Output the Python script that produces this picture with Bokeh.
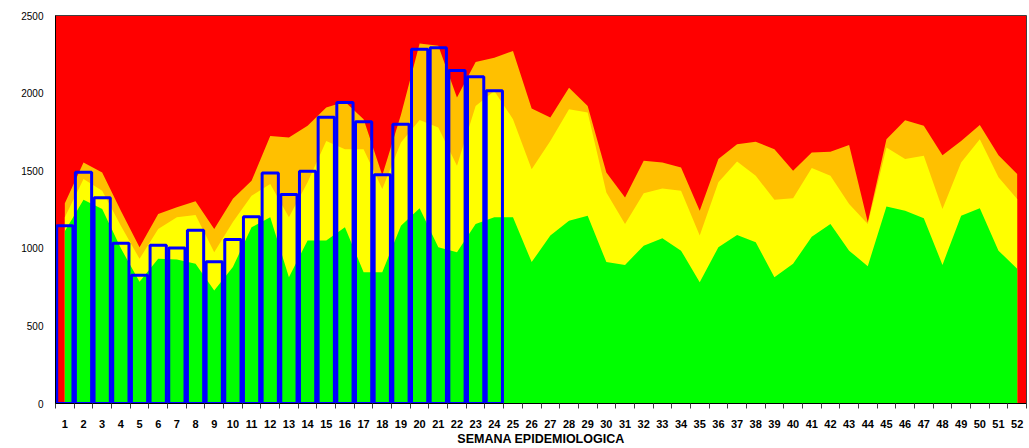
from bokeh.plotting import figure
from bokeh.models import FixedTicker, Range1d
from bokeh.embed import file_html
from bokeh.resources import INLINE

# ---- data ----
weeks = list(range(1, 53))
bar_weeks = list(range(1, 25))
casos = [1145, 1490, 1325, 1032, 826, 1020, 1002, 1116, 913, 1056,
         1203, 1485, 1346, 1496, 1845, 1940, 1816, 1474, 1800, 2283,
         2292, 2146, 2106, 2015]
# upper limits of the endemic-channel zones
p75 = [1290, 1553, 1489, 1242, 1007, 1221, 1264, 1303, 1125, 1320,
       1435, 1724, 1714, 1789, 1907, 1945, 1832, 1470, 1860, 2320,
       2305, 1971, 2200, 2228, 2271, 1900, 1842, 2035, 1917, 1489,
       1328, 1564, 1553, 1521, 1242, 1575, 1671, 1686, 1639, 1500,
       1618, 1622, 1665, 1168, 1703, 1825, 1789, 1600, 1692, 1795,
       1600, 1478]
p50 = [1200, 1446, 1371, 1146, 932, 1125, 1200, 1215, 975, 1170,
       1339, 1414, 1200, 1425, 1692, 1639, 1639, 1382, 1682, 1827,
       1778, 1532, 1917, 2014, 1832, 1510, 1692, 1896, 1875, 1360,
       1157, 1354, 1386, 1371, 1082, 1425, 1560, 1467, 1313, 1322,
       1517, 1467, 1285, 1157, 1650, 1575, 1596, 1253, 1553, 1703,
       1457, 1318]
p25 = [1110, 1313, 1253, 1000, 784, 932, 928, 900, 728, 880,
       1135, 1200, 814, 1050, 1050, 1135, 846, 846, 1146, 1258,
       1007, 975, 1157, 1200, 1200, 911, 1082, 1178, 1210, 911,
       893, 1017, 1065, 985, 782, 1007, 1086, 1039, 814, 900,
       1075, 1157, 985, 885, 1270, 1242, 1193, 893, 1210, 1258,
       985, 868]
y_ticks = [0, 500, 1000, 1500, 2000, 2500]
x_title = "SEMANA EPIDEMIOLOGICA"

# ---- figure ----
p = figure(width=1029, height=448, output_backend="svg", toolbar_location=None,
           x_range=Range1d(0.5, 52.5), y_range=Range1d(0, 2500),
           min_border_left=55, min_border_right=3, min_border_top=15,
           min_border_bottom=43)
p.background_fill_color = "#FF0000"
p.border_fill_color = "white"
p.outline_line_color = "#404040"
p.outline_line_width = 1
p.grid.visible = False

p.varea(x=weeks, y1=0, y2=p75, fill_color="#FFC000")
p.varea(x=weeks, y1=0, y2=p50, fill_color="#FFFF00")
p.varea(x=weeks, y1=0, y2=p25, fill_color="#00FF00")
p.vbar(x=bar_weeks, top=casos, bottom=0, width=0.87, fill_color=None,
       line_color="#0000FF", line_width=3)

xa = p.xaxis[0]
xa.ticker = FixedTicker(ticks=weeks, minor_ticks=[w - 0.5 for w in weeks] + [52.5])
xa.major_tick_line_color = None
xa.major_tick_out = 0
xa.major_tick_in = 0
xa.minor_tick_line_color = "#404040"
xa.minor_tick_out = 5
xa.minor_tick_in = 0
xa.axis_line_color = "black"
xa.major_label_text_font = "Liberation Sans"
xa.major_label_text_font_size = "11px"
xa.major_label_text_font_style = "bold"
xa.major_label_text_color = "black"
xa.major_label_standoff = 11
xa.axis_label = x_title
xa.axis_label_standoff = 1
xa.axis_label_text_font = "Liberation Sans"
xa.axis_label_text_font_size = "12.5px"
xa.axis_label_text_font_style = "bold"
xa.axis_label_text_color = "black"

ya = p.yaxis[0]
ya.ticker = FixedTicker(ticks=y_ticks)
ya.major_tick_line_color = None
ya.major_tick_out = 0
ya.major_tick_in = 0
ya.minor_tick_line_color = None
ya.axis_line_color = "black"
ya.major_label_text_font = "Liberation Sans"
ya.major_label_text_font_size = "10px"
ya.major_label_text_color = "black"
ya.major_label_standoff = 12

open("out.html", "w").write(file_html(p, INLINE))
